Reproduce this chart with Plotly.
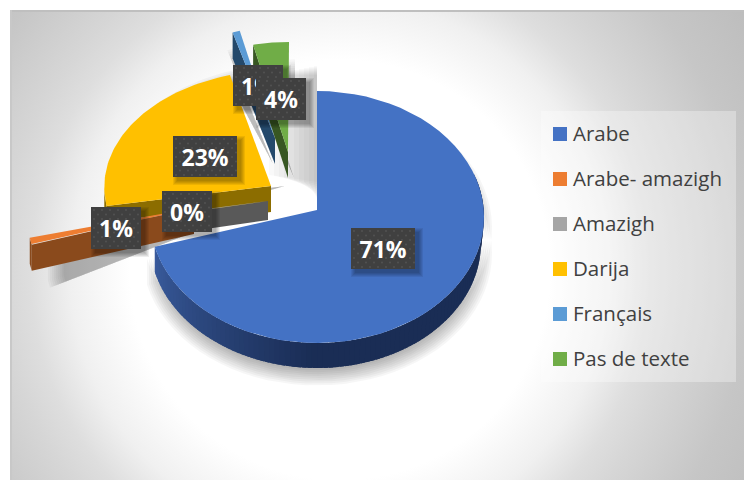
import base64
import math
import plotly.graph_objects as go

categories = ["Arabe", "Arabe- amazigh", "Amazigh", "Darija", "Français", "Pas de texte"]
values = [71.2, 0.9, 0.3, 23.0, 1.0, 3.6]
face_colors = ["#4472c4", "#ed7d31", "#a5a5a5", "#ffc000", "#5b9bd5", "#70ad47"]
wall_colors = ["#2f4f8f", "#8a4a1c", "#595959", "#8c6d00", "#24496b", "#385723"]

# Exploded 3-D layout of every slice (pixel-like axes): apex, rim centre, radii, depth
geometry = [
    dict(ax=317, ay=210, cx=317, cy=217, rx=167, ry=126, depth=25),
    dict(ax=194, ay=208, cx=194, cy=215, rx=167, ry=126, depth=26),
    dict(ax=268, ay=201, cx=268, cy=201, rx=160, ry=126, depth=19),
    dict(ax=271, ay=186, cx=280, cy=187, rx=175.7, ry=116.8, depth=26),
    dict(ax=275, ay=138, cx=266, cy=138, rx=117, ry=110, depth=26),
    dict(ax=288, ay=152, cx=289, cy=152, rx=160, ry=110, depth=26),
]
# shadow offset and spread of every slice
shadow_style = {
    5: dict(ox=6, oy=26, spread=0.02, alpha=0.03),
    4: dict(ox=-2, oy=26, spread=0.02, alpha=0.03),
    3: dict(ox=14, oy=0, spread=0.015, alpha=0.035),
    1: dict(ox=26, oy=14, spread=0.012, alpha=0.035),
    0: dict(ox=0, oy=10, spread=0.012, alpha=0.035),
}
label_boxes = {  # x0, y0, x1, y1
    "Arabe": (351, 228, 415, 269),
    "Arabe- amazigh": (91, 207, 141, 249),
    "Amazigh": (162, 191, 212, 232),
    "Darija": (173, 136, 237, 177),
    "Français": (233, 65, 283, 106),
    "Pas de texte": (256, 78, 306, 120),
}
W, H = 752, 480
PAGE_MARGIN = 8  # the browser's default body margin
LEGEND_Y = [134, 179, 224, 269, 314, 359]


def angles():
    total = sum(values)
    out, run = [], 0.0
    for v in values:
        out.append((run, run + v / total * 360))
        run += v / total * 360
    return out


def rim(g, t0, t1, dy=0.0, n=60, shrink=None):
    pts = []
    for i in range(n + 1):
        deg = t0 + (t1 - t0) * i / n
        t = math.radians(deg)
        s = shrink(deg) if shrink else 0.0
        pts.append((g["cx"] + (g["rx"] - s) * math.sin(t), g["cy"] - g["ry"] * math.cos(t) + dy))
    return pts


def poly(pts, color, name=None):
    xs = [p[0] for p in pts] + [pts[0][0]]
    ys = [p[1] for p in pts] + [pts[0][1]]
    return go.Scatter(x=xs, y=ys, mode="lines", fill="toself", fillcolor=color,
                      line=dict(width=0), showlegend=False, hoverinfo="skip" if name is None else "text",
                      text=name, name=name or "")


def shadow(pts, ox, oy, pivot, spread, alpha, layers=9):
    out = []
    for i in range(layers):
        k = 1 + spread * (layers - 1 - i * 2) / 2
        q = [(pivot[0] + (x - pivot[0]) * k + ox, pivot[1] + (y - pivot[1]) * k + oy) for x, y in pts]
        out.append(poly(q, f"rgba(0,0,0,{alpha})"))
    return out


fig = go.Figure()
span = angles()

# chart border and legend panel
fig.add_trace(poly([(10, 10), (W, 10), (W, 12), (10, 12)], "#bfbfbf"))
fig.add_trace(poly([(10, 10), (12, 10), (12, H), (10, H)], "#c8c8c8"))
fig.add_trace(poly([(750, 12), (W, 12), (W, H), (750, H)], "#d4d4d4"))
fig.add_trace(poly([(541, 111), (736, 111), (736, 382), (541, 382)], "rgba(255,255,255,0.32)"))

# soft shadows under the slices
for idx in [5, 4, 3, 1, 0]:
    g = geometry[idx]
    t0, t1 = span[idx]
    outline = [(g["ax"], g["ay"])] + rim(g, t0, t1)
    outline = outline + [(x, y + g["depth"]) for x, y in reversed(rim(g, t0, t1))]
    st = shadow_style[idx]
    for tr in shadow(outline, st["ox"], st["oy"], (g["ax"], g["ay"]), st["spread"], st["alpha"]):
        fig.add_trace(tr)
# shade that the blue slice's straight edge throws to its left
for k in range(10):
    fig.add_trace(poly([(317 - 5 * k - 3, 66 + k), (317, 66 + k), (317, 200 - 2 * k), (317 - 5 * k - 3, 184 - k)],
                       "rgba(0,0,0,0.022)"))

# slices, back to front
for idx in [4, 5, 3, 2, 1, 0]:
    g = geometry[idx]
    t0, t1 = span[idx]
    top = rim(g, t0, t1)
    apex = (g["ax"], g["ay"])
    d = g["depth"]
    if idx != 0:
        # radial wall of the slice's leading edge
        s = top[0]
        fig.add_trace(poly([s, apex, (apex[0], apex[1] + d), (s[0], s[1] + d)], wall_colors[idx]))
        a0, a1 = max(t0, 90), min(t1, 270)
        if a1 > a0:
            seg = rim(g, a0, a1, n=6)
            fig.add_trace(poly(seg + [(x, y + d) for x, y in reversed(seg)], wall_colors[idx]))
    else:
        # curved wall, darker towards the front; it tapers in behind the top face
        a0, a1 = 70.0, t1
        taper = lambda deg: 3 * (1 - max(0.0, min(1.0, (deg - 90) / 166)))
        steps = 100
        for i in range(steps):
            b0 = a0 + (a1 - a0) * i / steps
            b1 = min(a1, a0 + (a1 - a0) * (i + 1) / steps + 1.5)
            f = max(0.0, (b0 - 180) / (a1 - 180))
            col = f"rgb({int(26 + 32 * f)},{int(45 + 47 * f)},{int(85 + 73 * f)})"
            upper = rim(g, b0, b1, n=3)
            lower = rim(g, b0, b1, dy=d, n=3, shrink=taper)
            fig.add_trace(poly(upper + list(reversed(lower)), col))
    fig.add_trace(poly([apex] + top, face_colors[idx], categories[idx]))

# data labels: box, its shadow, dot texture and the percentage as text
total = sum(values)
for name in ["Arabe", "Darija", "Amazigh", "Arabe- amazigh", "Français", "Pas de texte"]:
    x0, y0, x1, y1 = label_boxes[name]
    val = values[categories.index(name)] / total * 100
    for k in range(1, 6):
        e = 6 - k
        fig.add_trace(poly([(x0 + 5 - e, y0 + 5 - e), (x1 + 3 + e, y0 + 5 - e),
                            (x1 + 3 + e, y1 + 3 + e), (x0 + 5 - e, y1 + 3 + e)], "rgba(0,0,0,0.07)"))
    fig.add_trace(poly([(x0, y0), (x1, y0), (x1, y1), (x0, y1)], "#404040"))
    dx, dy = [], []
    ny = 0
    y = y0 + 3
    while y < y1:
        x = x0 + (3 if ny % 2 == 0 else 7)
        while x < x1:
            dx.append(x)
            dy.append(y)
            x += 8
        y += 4.5
        ny += 1
    fig.add_trace(go.Scatter(x=dx, y=dy, mode="markers", marker=dict(size=2, color="#525252", line=dict(width=0)),
                             showlegend=False, hoverinfo="skip"))
    fig.add_trace(go.Scatter(x=[(x0 + x1) / 2], y=[(y0 + y1) / 2 + 3.5], mode="text", text=[f"{val:.0f}%"],
                             textfont=dict(family="Open Sans", size=23, color="white", weight="bold"),
                             textposition="middle center", showlegend=False, hoverinfo="skip"))

# legend panel entries
for name, col, y in zip(categories, face_colors, LEGEND_Y):
    fig.add_trace(go.Scatter(x=[560], y=[y], mode="markers", name=name, showlegend=False, hoverinfo="skip",
                             marker=dict(symbol="square", size=14, color=col, line=dict(width=0))))
    fig.add_trace(go.Scatter(x=[573], y=[y + 1.5], mode="text", text=[name], name=name, showlegend=False,
                             hoverinfo="skip", textposition="middle right",
                             textfont=dict(family="Open Sans", size=20.5, color="#404040")))

svg = f'''<svg xmlns="http://www.w3.org/2000/svg" width="{W}" height="{H}" viewBox="0 0 {W} {H}">
<defs><radialGradient id="g" gradientUnits="userSpaceOnUse" cx="340" cy="270" r="500">
<stop offset="0" stop-color="#ffffff"/><stop offset="0.42" stop-color="#ffffff"/>
<stop offset="0.54" stop-color="#f0f0f0"/><stop offset="0.62" stop-color="#dedede"/>
<stop offset="0.68" stop-color="#d6d6d6"/><stop offset="0.82" stop-color="#c6c6c6"/>
<stop offset="1" stop-color="#bbbbbb"/></radialGradient></defs>
<rect width="{W}" height="{H}" fill="url(#g)"/>
<rect width="10" height="{H}" fill="#ffffff"/><rect width="{W}" height="10" fill="#ffffff"/></svg>'''
uri = "data:image/svg+xml;base64," + base64.b64encode(svg.encode()).decode()

fig.update_layout(
    width=W - PAGE_MARGIN, height=H - PAGE_MARGIN, autosize=False, margin=dict(l=0, r=0, t=0, b=0),
    paper_bgcolor="white", plot_bgcolor="rgba(0,0,0,0)",
    xaxis=dict(range=[PAGE_MARGIN, W], visible=False, fixedrange=True),
    yaxis=dict(range=[H, PAGE_MARGIN], visible=False, fixedrange=True),
    images=[dict(source=uri, xref="x", yref="y", x=0, y=0, sizex=W, sizey=H,
                 sizing="stretch", layer="below", xanchor="left", yanchor="top")],
    showlegend=False,
)
fig.write_html("out.html", config=dict(displayModeBar=False))
